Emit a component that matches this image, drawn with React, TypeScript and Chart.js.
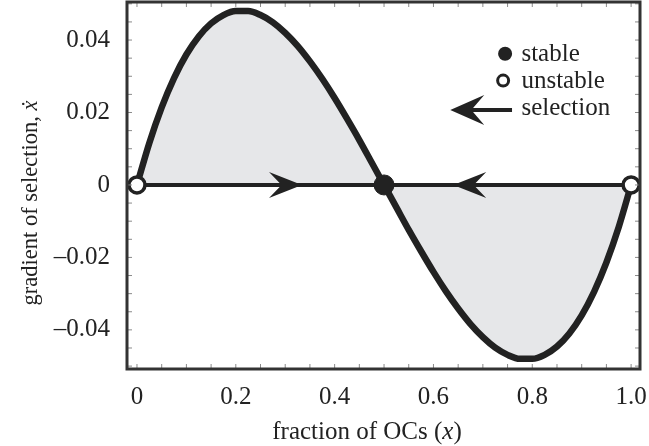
import React, { useEffect, useRef } from "react";
import { Chart, registerables } from "chart.js";

Chart.register(...registerables);

// fraction of OCs (x)
const xValues = [
  0, 0.025, 0.05, 0.075, 0.1, 0.125, 0.15, 0.175, 0.2, 0.225, 0.25, 0.275, 0.3, 0.325, 0.35, 0.375, 0.4,
  0.425, 0.45, 0.475, 0.5, 0.525, 0.55, 0.575, 0.6, 0.625, 0.65, 0.675, 0.7, 0.725, 0.75, 0.775, 0.8,
  0.825, 0.85, 0.875, 0.9, 0.925, 0.95, 0.975, 1,
];
// gradient of selection
const gradientValues = [
  0, 0.0116, 0.0214, 0.0295, 0.036, 0.041, 0.0446, 0.0469, 0.048, 0.048, 0.0469, 0.0449, 0.042, 0.0384,
  0.0341, 0.0293, 0.024, 0.0183, 0.0124, 0.0062, 0, -0.0062, -0.0124, -0.0183, -0.024, -0.0293, -0.0341,
  -0.0384, -0.042, -0.0449, -0.0469, -0.048, -0.048, -0.0469, -0.0446, -0.041, -0.036, -0.0295, -0.0214,
  -0.0116, 0,
];
const unstableX = [0, 1];
const stableX = [0.5];
const flowArrowX = [0.334, 0.64];
const flowArrowDir = [1, -1];
const xTicks = [0, 0.2, 0.4, 0.6, 0.8, 1.0];
const xTickLabels = ["0", "0.2", "0.4", "0.6", "0.8", "1.0"];
const yTicks = [-0.04, -0.02, 0, 0.02, 0.04];
const yTickLabels = ["\u20130.04", "\u20130.02", "0", "0.02", "0.04"];
const legendLabels = ["stable", "unstable", "selection"];

const INK = "#222";
const FONT = "'Liberation Serif', 'Times New Roman', serif";
const FS = 25;

function drawStealth(ctx: CanvasRenderingContext2D, tipX: number, tipY: number, dir: number, len: number, half: number) {
  ctx.beginPath();
  ctx.moveTo(tipX, tipY);
  ctx.lineTo(tipX - dir * len, tipY - half);
  ctx.lineTo(tipX - dir * len * 0.62, tipY);
  ctx.lineTo(tipX - dir * len, tipY + half);
  ctx.closePath();
  ctx.fill();
}

const decorPlugin = {
  id: "decor",
  afterDatasetsDraw(chart: any) {
    const { ctx, chartArea: a, scales } = chart;
    const xs = scales.x;
    const ys = scales.y;
    ctx.save();
    // minor ticks
    ctx.strokeStyle = "#8a8a8a";
    ctx.lineWidth = 1;
    ctx.beginPath();
    for (let i = -10; i <= 10; i++) {
      const py = ys.getPixelForValue(i * 0.005);
      if (py <= a.top + 1 || py >= a.bottom - 1) continue;
      ctx.moveTo(a.left, py);
      ctx.lineTo(a.left + 5, py);
      ctx.moveTo(a.right, py);
      ctx.lineTo(a.right - 5, py);
    }
    for (let i = 0; i <= 20; i++) {
      const px = xs.getPixelForValue(i * 0.05);
      ctx.moveTo(px, a.top);
      ctx.lineTo(px, a.top + 5);
      ctx.moveTo(px, a.bottom);
      ctx.lineTo(px, a.bottom - 5);
    }
    ctx.stroke();
    // frame
    ctx.strokeStyle = "#333";
    ctx.lineWidth = 3;
    ctx.strokeRect(a.left, a.top, a.right - a.left, a.bottom - a.top);

    // flow arrows on the zero line
    ctx.fillStyle = INK;
    const y0 = ys.getPixelForValue(0);
    flowArrowX.forEach((v, i) => {
      drawStealth(ctx, xs.getPixelForValue(v), y0, flowArrowDir[i], 33, 13);
    });

    // legend
    const lx1 = xs.getPixelForValue(0.745);
    const lx2 = xs.getPixelForValue(0.741);
    const ly1 = ys.getPixelForValue(0.0362);
    const ly2 = ys.getPixelForValue(0.0288);
    const ly3 = ys.getPixelForValue(0.0207);
    ctx.beginPath();
    ctx.arc(lx1, ly1, 7, 0, Math.PI * 2);
    ctx.fill();
    ctx.beginPath();
    ctx.arc(lx2, ly2, 5.5, 0, Math.PI * 2);
    ctx.fillStyle = "#fff";
    ctx.fill();
    ctx.lineWidth = 3;
    ctx.strokeStyle = INK;
    ctx.stroke();
    const tip = xs.getPixelForValue(0.634);
    const tail = xs.getPixelForValue(0.759);
    ctx.fillStyle = INK;
    ctx.lineWidth = 4;
    ctx.beginPath();
    ctx.moveTo(tip + 20, ly3);
    ctx.lineTo(tail, ly3);
    ctx.stroke();
    drawStealth(ctx, tip, ly3, -1, 34, 15);

    const textX = xs.getPixelForValue(0.778);
    ctx.fillStyle = "#222";
    ctx.font = `${FS}px ${FONT}`;
    ctx.textBaseline = "alphabetic";
    ctx.textAlign = "left";
    ctx.fillText(legendLabels[0], textX, ly1 + 7);
    ctx.fillText(legendLabels[1], textX, ly2 + 7);
    ctx.fillText(legendLabels[2], textX, ly3 + 5);

    // axis titles with italic parts
    const drawMixed = (parts: [string, boolean][], cx: number, cy: number, rot: number, size: number) => {
      ctx.save();
      ctx.translate(cx, cy);
      ctx.rotate(rot);
      let total = 0;
      const widths = parts.map(([t, it]) => {
        ctx.font = `${it ? "italic " : ""}${size}px ${FONT}`;
        const w = ctx.measureText(t).width;
        total += w;
        return w;
      });
      let x = -total / 2;
      ctx.textAlign = "left";
      ctx.textBaseline = "middle";
      parts.forEach(([t, it], i) => {
        ctx.font = `${it ? "italic " : ""}${size}px ${FONT}`;
        ctx.fillText(t, x, 0);
        x += widths[i];
      });
      ctx.restore();
    };
    drawMixed([["fraction of OCs (", false], ["x", true], [")", false]], 367, 432, 0, 25);
    drawMixed([["gradient of selection, ", false], ["x\u0307", true]], 31, 203, -Math.PI / 2, 22.5);
    ctx.restore();
  },
};

export default function App() {
  const ref = useRef<HTMLCanvasElement>(null);
  useEffect(() => {
    if (!ref.current) return;
    const curve = xValues.map((x, i) => ({ x, y: gradientValues[i] }));
    const chart = new Chart(ref.current, {
      type: "line",
      data: {
        datasets: [
          {
            data: unstableX.map((x) => ({ x, y: 0 })),
            showLine: false,
            pointRadius: 8,
            pointBackgroundColor: "#fff",
            pointBorderColor: INK,
            pointBorderWidth: 3.5,
            order: 0,
            clip: false as any,
          },
          {
            data: stableX.map((x) => ({ x, y: 0 })),
            showLine: false,
            pointRadius: 10,
            pointBackgroundColor: INK,
            pointBorderColor: INK,
            pointBorderWidth: 1,
            order: 0,
            clip: false as any,
          },
          {
            data: [
              { x: 0, y: 0 },
              { x: 1, y: 0 },
            ],
            borderColor: INK,
            borderWidth: 4,
            pointRadius: 0,
            fill: false,
            order: 1,
          },
          {
            data: curve,
            borderColor: INK,
            borderWidth: 6.5,
            pointRadius: 0,
            cubicInterpolationMode: "monotone",
            fill: "origin",
            backgroundColor: "#e6e7e9",
            order: 2,
          },
        ],
      },
      options: {
        responsive: false,
        animation: false,
        events: [],
        layout: { autoPadding: false, padding: { top: 2, right: 9, left: 0, bottom: 0 } },
        plugins: { legend: { display: false }, tooltip: { enabled: false } },
        scales: {
          x: {
            type: "linear",
            min: -0.0202,
            max: 1.018,
            grid: { display: false },
            border: { display: false },
            afterBuildTicks: (s: any) => {
              s.ticks = xTicks.map((v) => ({ value: v }));
            },
            afterFit: (s: any) => {
              s.height = 77;
              s.paddingLeft = 0;
              s.paddingRight = 0;
              s.paddingTop = 0;
              s.paddingBottom = 0;
            },
            ticks: {
              padding: 5,
              color: "#222",
              font: { family: FONT, size: FS },
              maxRotation: 0,
              callback: (v: any) => {
                const i = xTicks.findIndex((t) => Math.abs(t - v) < 1e-9);
                return i >= 0 ? xTickLabels[i] : "";
              },
            },
          },
          y: {
            type: "linear",
            min: -0.0508,
            max: 0.0505,
            grid: { display: false },
            border: { display: false },
            afterBuildTicks: (s: any) => {
              s.ticks = yTicks.map((v) => ({ value: v }));
            },
            afterFit: (s: any) => {
              s.width = 127;
              s.paddingLeft = 0;
              s.paddingRight = 0;
              s.paddingTop = 0;
              s.paddingBottom = 0;
            },
            ticks: {
              padding: 9,
              color: "#222",
              font: { family: FONT, size: FS },
              callback: (v: any) => {
                const i = yTicks.findIndex((t) => Math.abs(t - v) < 1e-9);
                return i >= 0 ? yTickLabels[i] : "";
              },
            },
          },
        },
      },
      plugins: [decorPlugin],
    });
    return () => chart.destroy();
  }, []);
  return (
    <div style={{ position: "absolute", left: 0, top: 0, width: 649, height: 446, background: "#fff" }}>
      <canvas ref={ref} width={649} height={446} style={{ display: "block" }} />
    </div>
  );
}
